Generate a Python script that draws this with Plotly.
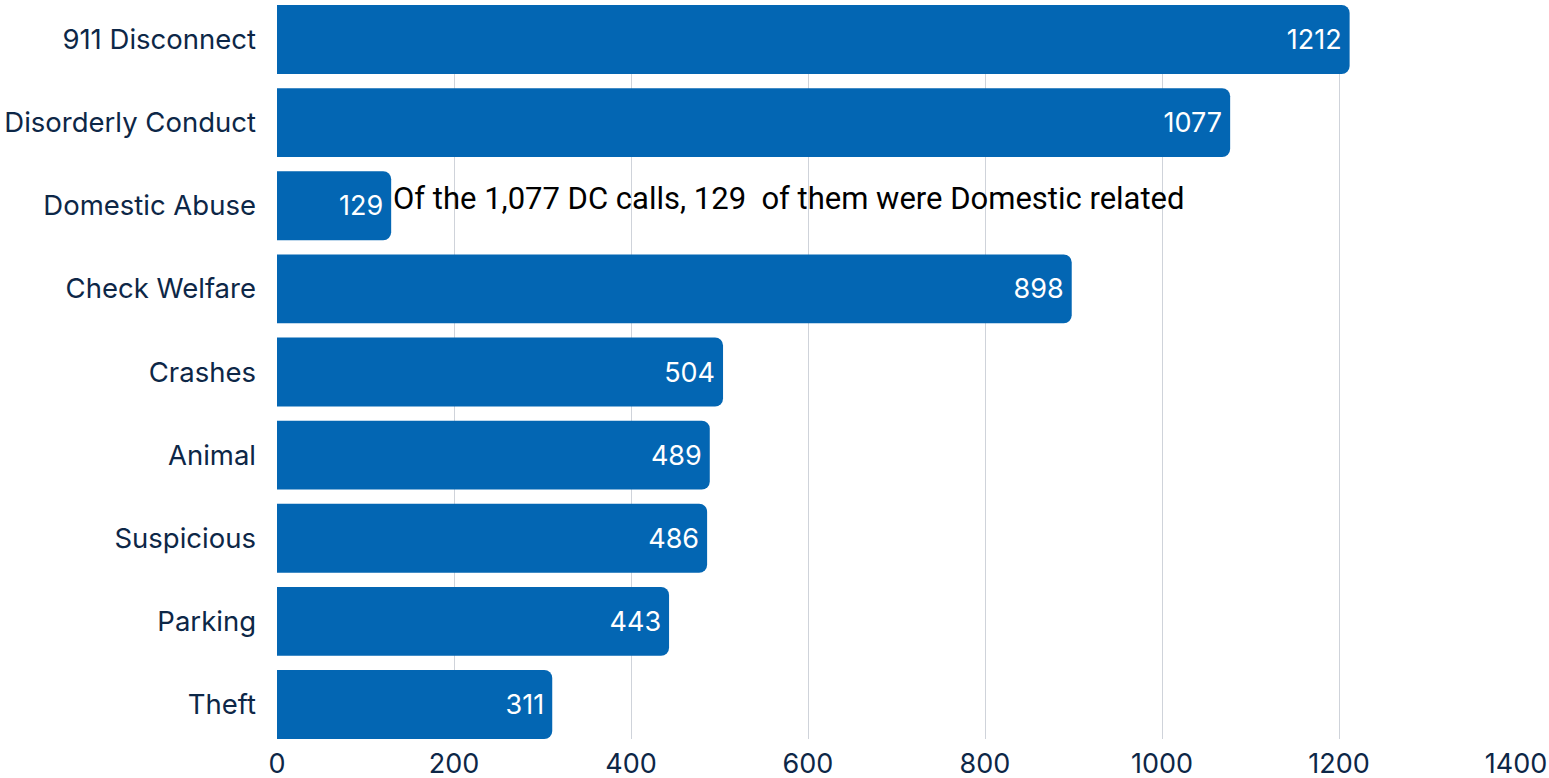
"""Horizontal bar chart of call types, with a note on Domestic Abuse."""

import plotly.graph_objects as go

KATEGORIE = [
    "911 Disconnect",
    "Disorderly Conduct",
    "Domestic Abuse",
    "Check Welfare",
    "Crashes",
    "Animal",
    "Suspicious",
    "Parking",
    "Theft",
]
WARTOSCI = [1212, 1077, 129, 898, 504, 489, 486, 443, 311]
NOTKA = "Of the 1,077 DC calls, 129  of them were Domestic related"

KOLOR = "#0366b3"
GRANAT = "#0d2747"
GAP = 0.17

fig = go.Figure(
    go.Bar(
        x=WARTOSCI, y=KATEGORIE, orientation="h",
        marker=dict(color=KOLOR, line=dict(width=0)),
        text=WARTOSCI, textposition="inside", insidetextanchor="end",
        textfont=dict(family="Inter", size=27, color="white"),
        hoverinfo="x+y",
    )
)

pol = (1 - GAP) / 2
fig.update_layout(
    width=1549, height=778,
    margin=dict(l=277, r=33, t=5, b=39),
    plot_bgcolor="white", paper_bgcolor="white",
    bargap=GAP, barcornerradius=8,
    showlegend=False,
    font=dict(family="Inter", size=27, color=GRANAT),
    xaxis=dict(
        range=[0, 1400], dtick=200, showgrid=True, gridcolor="#cfd3da",
        gridwidth=1, zeroline=False, ticks="", showline=False,
        ticklabelstandoff=6, automargin=False,
        tickfont=dict(family="Inter", size=27, color=GRANAT),
    ),
    yaxis=dict(
        range=[len(KATEGORIE) - 1 + pol, -pol], showgrid=False,
        ticks="", ticklabelstandoff=20, automargin=False,
        tickfont=dict(family="Inter", size=27.5, color=GRANAT),
    ),
)

fig.add_annotation(
    x=WARTOSCI[2], y=KATEGORIE[2], text=NOTKA, showarrow=False,
    xanchor="left", yshift=7,
    font=dict(family="Roboto", size=31, color="black"),
)

# strona bez domyślnego marginesu body
fig.write_html("out.html", config={"displayModeBar": False},
               post_script="document.body.style.margin='0';")
